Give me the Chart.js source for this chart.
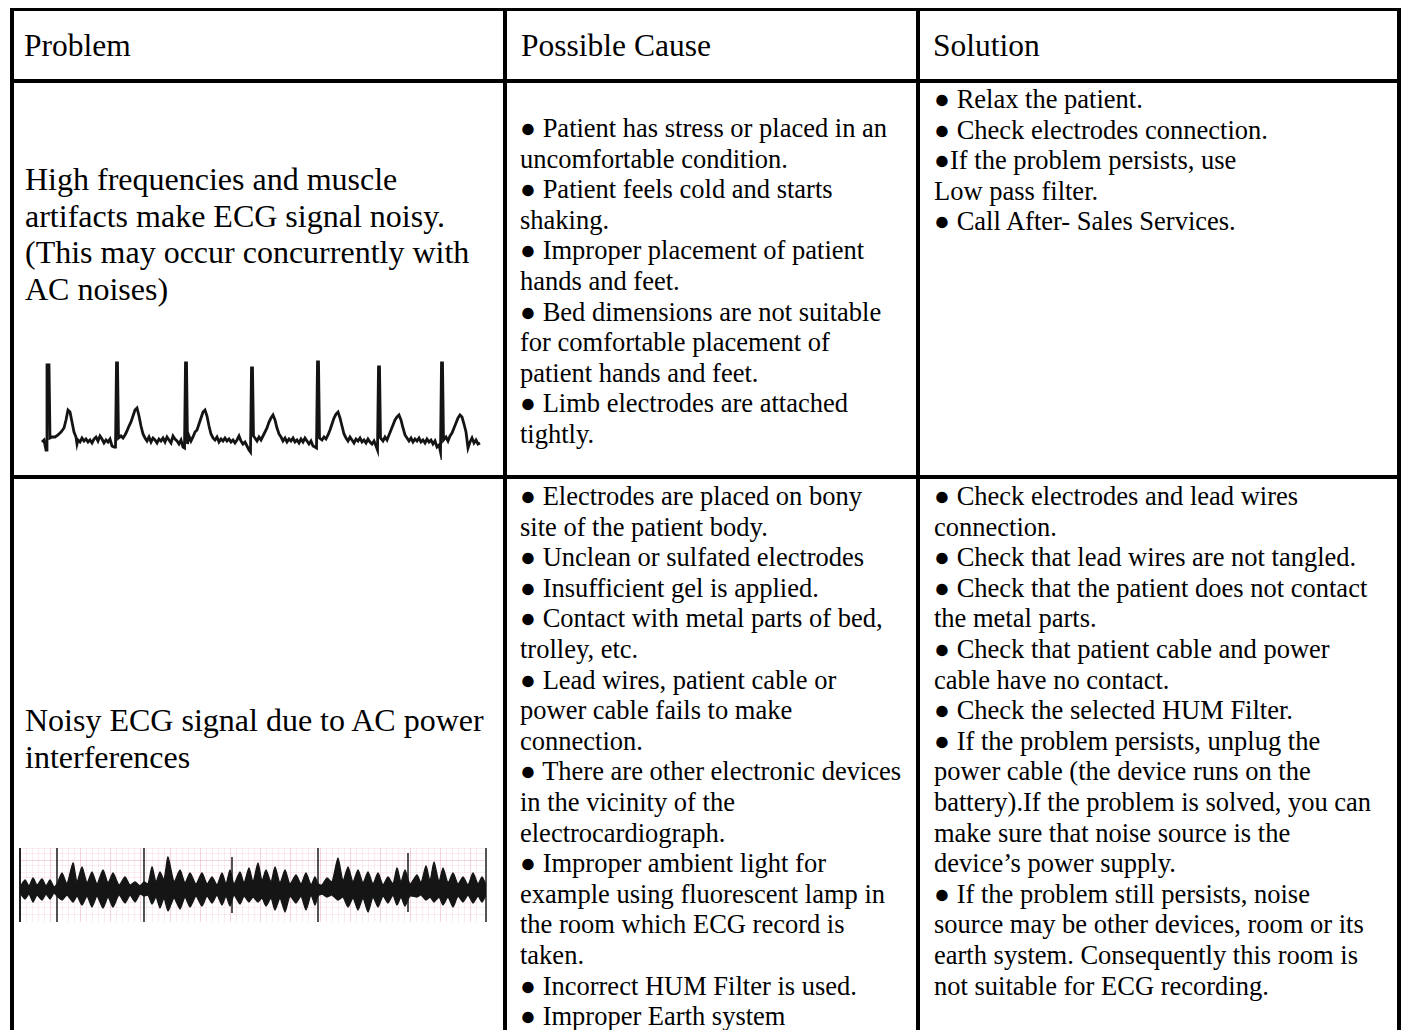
<!DOCTYPE html>
<html>
<head>
<meta charset="utf-8">
<script src="https://cdn.jsdelivr.net/npm/chart.js@4.4.0/dist/chart.umd.min.js"></script>
<style>
  html, body { margin:0; padding:0; }
  body { width:1405px; height:1030px; background:#fff; position:relative; overflow:hidden;
         font-family:"Liberation Serif","Times New Roman",serif; color:#000; }
  .ln { position:absolute; background:#000; }
  .t { position:absolute; white-space:nowrap; }
  .hdr { font-size:31.5px; line-height:36.5px; }
  .big { font-size:32px; line-height:36.6px; }
  .body { font-size:26.5px; line-height:30.6px; }
  canvas { position:absolute; }
</style>
</head>
<body>

<!-- table rules -->
<div class="ln" style="left:10px;top:7.5px;width:1391px;height:3.6px"></div>
<div class="ln" style="left:10px;top:7.5px;width:3.5px;height:1030px"></div>
<div class="ln" style="left:1397px;top:7.5px;width:3.5px;height:1030px"></div>
<div class="ln" style="left:10px;top:79px;width:1391px;height:3.6px"></div>
<div class="ln" style="left:10px;top:475px;width:1391px;height:3.5px"></div>
<div class="ln" style="left:503px;top:7.5px;width:3.8px;height:1030px"></div>
<div class="ln" style="left:916px;top:7.5px;width:3.6px;height:1030px"></div>

<!-- header -->
<div class="t hdr" style="left:24px;top:27.5px">Problem</div>
<div class="t hdr" style="left:521px;top:27.5px">Possible Cause</div>
<div class="t hdr" style="left:933px;top:27.5px">Solution</div>

<!-- row 1 -->
<div class="t big" style="left:25px;top:161px">High frequencies and muscle<br>artifacts make ECG signal noisy.<br>(This may occur concurrently with<br>AC noises)</div>
<canvas id="ecg1" width="444" height="105" style="left:40px;top:355px"></canvas>

<div class="t body" style="left:520px;top:113px">● Patient has stress or placed in an<br>uncomfortable condition.<br>● Patient feels cold and starts<br>shaking.<br>● Improper placement of patient<br>hands and feet.<br>● Bed dimensions are not suitable<br>for comfortable placement of<br>patient hands and feet.<br>● Limb electrodes are attached<br>tightly.</div>

<div class="t body" style="left:934px;top:84px">● Relax the patient.<br>● Check electrodes connection.<br>●If the problem persists, use<br>Low pass filter.<br>● Call After- Sales Services.</div>

<!-- row 2 -->
<div class="t big" style="left:25px;top:702px">Noisy ECG signal due to AC power<br>interferences</div>
<canvas id="ecg2" width="468" height="74" style="left:19px;top:848px"></canvas>

<div class="t body" style="left:520px;top:481px">● Electrodes are placed on bony<br>site of the patient body.<br>● Unclean or sulfated electrodes<br>● Insufficient gel is applied.<br>● Contact with metal parts of bed,<br>trolley, etc.<br>● Lead wires, patient cable or<br>power cable fails to make<br>connection.<br>● There are other electronic devices<br>in the vicinity of the<br>electrocardiograph.<br>● Improper ambient light for<br>example using fluorescent lamp in<br>the room which ECG record is<br>taken.<br>● Incorrect HUM Filter is used.<br>● Improper Earth system</div>

<div class="t body" style="left:934px;top:481px">● Check electrodes and lead wires<br>connection.<br>● Check that lead wires are not tangled.<br>● Check that the patient does not contact<br>the metal parts.<br>● Check that patient cable and power<br>cable have no contact.<br>● Check the selected HUM Filter.<br>● If the problem persists, unplug the<br>power cable (the device runs on the<br>battery).If the problem is solved, you can<br>make sure that noise source is the<br>device’s power supply.<br>● If the problem still persists, noise<br>source may be other devices, room or its<br>earth system. Consequently this room is<br>not suitable for ECG recording.</div>

<script>
// ---- ECG trace 1: muscle artifact (time in samples, amplitude in ADC units) ----
const ecg1Time = [
  2,4,6,7,9,10,12,15,18,21,24,26,28,30,32,34,36,37,38,40,42,44,46,48,50,52,54,56,58,60,62,64,66,68,70,72,74,75.5,
  76.5,77.5,78.5,81,83,85,87,89,91,93,95,97,99,101,103,105,107,109,111,113,115,117,119,121,123,125,127,129,131,133,135,137,139,141,143,144.5,
  145.5,146.5,147.5,149,151,153,155,157,159,161,163,165,167,169,171,173,175,177,179,181,183,185,187,189,191,193,195,197,199,201,203,205,207,209,210.5,
  211.5,212.5,213.5,215,217,219,221,223,225,227,229,231,233,235,237,239,241,243,245,247,249,251,253,255,257,259,261,263,265,267,269,271,273,275,276.5,
  277.5,278.5,279.5,282,284,286,288,290,292,294,296,298,300,302,304,306,308,310,312,314,316,318,320,322,324,326,328,330,332,334,336,337.5,
  338.5,339.5,340.5,343,345,347,349,351,353,355,357,359,361,363,365,367,369,371,373,375,377,379,381,383,385,387,389,391,393,395,397,399,400.5,
  401.5,402.5,403.5,406,408,410,412,414,416,418,420,422,424,426,428,430,432,434,436,438,440
];
const ecg1Amp = [
  -4,-2,-12,73,73,0,1,1,3,6,10,18,28,26,16,6,1,-6,-2,-4,0,-3,-1,-4,-2,-5,-1,1,-3,2,-1,-5,-2,-4,-1,-8,-9,-9,
  75,75,0,2,0,3,7,12,16,22,28,30,22,12,4,0,-3,1,-4,0,-2,-5,-1,-3,0,-4,1,-2,-5,2,-1,-3,-6,-2,-9,-10,
  75,75,-6,2,-3,1,6,8,14,20,26,28,22,12,4,0,-2,1,-4,-1,-3,0,-3,-1,-4,-2,-5,-2,2,-3,-6,-4,-8,-12,-14,
  70,70,2,0,-3,1,-2,2,6,10,16,20,23,18,10,4,1,-3,0,-4,-1,-3,0,-4,-2,-5,-1,-4,0,-3,-6,-3,-8,-9,-10,
  76,76,0,-2,1,-1,3,8,14,20,24,26,20,12,4,0,-3,1,-2,-5,-1,-3,0,-4,-2,-5,-1,-4,-6,-3,-8,-12,
  71,71,0,-3,1,-2,3,8,13,18,21,23,18,10,3,0,-3,0,-4,-1,-3,0,-4,-2,-5,-1,-4,-2,-6,-3,-9,-7,-14,
  75,75,-2,1,-3,2,5,10,15,20,23,21,14,6,-10,-4,0,-5,-2,-6,-5
];

// ---- ECG trace 2: AC power interference (envelope of the hum band) ----
const acTime = [
  0,5,9,13,17,22,26,30,34,37,
  42,47,53,57,62,67,72,77,83,88,93,99,105,110,115,120,124,
  128,132,136,140,144,148,154,160,165,170,176,182,187,192,197,202,206,210,214,
  220,224,229,233,238,242,246,251,255,260,265,270,276,281,286,291,295,298,
  302,307,312,318,323,328,333,338,343,348,353,358,363,368,373,377,381,385,390,
  397,401,406,410,414,419,423,428,433,438,443,448,453,458,462,466
];
const acUpper = [
  3,10,4,12,5,11,4,10,3,6,
  17,6,27,8,23,7,18,6,20,7,17,5,13,5,8,4,8,
  6,23,8,18,10,33,8,20,7,17,6,17,6,13,5,17,6,20,6,
  18,7,22,8,27,9,20,8,23,7,20,6,15,6,17,5,13,6,
  5,12,8,32,9,23,8,20,7,18,6,17,5,13,6,22,8,20,6,
  15,7,24,9,28,8,22,7,17,6,13,5,17,6,13,5
];
const acLower = [
  -3,-9,-4,-12,-5,-10,-4,-9,-3,-6,
  -10,-5,-12,-6,-15,-6,-17,-6,-18,-7,-17,-5,-13,-5,-12,-4,-6,
  -5,-14,-7,-18,-8,-21,-8,-19,-7,-17,-6,-16,-6,-13,-5,-15,-6,-16,-5,
  -14,-6,-12,-7,-12,-8,-16,-8,-20,-8,-22,-6,-13,-6,-20,-5,-15,-6,
  -4,-7,-5,-10,-7,-17,-8,-20,-8,-22,-7,-17,-6,-13,-5,-15,-7,-16,-6,
  -7,-5,-10,-7,-12,-7,-15,-7,-17,-6,-12,-5,-13,-6,-12,-5
];
// R-wave spikes visible through the hum
const spikeTime = [37, 124, 212, 298, 388];
const spikeTop = [42, 42, 33, 42, 37];
const spikeBottom = [-32, -32, -23, -32, -22];

const common = {
  responsive: false,
  animation: false,
  devicePixelRatio: 1,
  events: [],
  plugins: { legend: { display: false }, tooltip: { enabled: false } }
};

new Chart(document.getElementById('ecg1'), {
  type: 'line',
  data: {
    datasets: [{
      data: ecg1Time.map((t, i) => ({ x: t, y: ecg1Amp[i] })),
      borderColor: '#141414',
      borderWidth: 2.8,
      pointRadius: 0,
      tension: 0,
      fill: false
    }]
  },
  options: Object.assign({}, common, {
    layout: { padding: 0 },
    scales: {
      x: { type: 'linear', min: 0, max: 444, display: false },
      y: { min: -22, max: 83, display: false }
    }
  })
});

const spikePts = [];
spikeTime.forEach((t, i) => {
  spikePts.push({ x: t, y: spikeBottom[i] });
  spikePts.push({ x: t, y: spikeTop[i] });
  spikePts.push({ x: t, y: null });
});

const gridColor = c => (Math.round(c.tick.value) % 30 === 0) ? 'rgba(228,160,182,0.45)' : 'rgba(236,185,200,0.28)';

new Chart(document.getElementById('ecg2'), {
  type: 'line',
  data: {
    datasets: [
      {
        data: acTime.map((t, i) => ({ x: t, y: acUpper[i] })),
        borderColor: '#151515', backgroundColor: '#151515', borderWidth: 1.3,
        pointRadius: 0, tension: 0.2, fill: '+1'
      },
      {
        data: acTime.map((t, i) => ({ x: t, y: acLower[i] })),
        borderColor: '#151515', borderWidth: 1.3,
        pointRadius: 0, tension: 0.2, fill: false
      },
      {
        data: spikePts,
        borderColor: '#2a2a2a', borderWidth: 1.6,
        pointRadius: 0, tension: 0, fill: false, spanGaps: false
      }
    ]
  },
  options: Object.assign({}, common, {
    layout: { padding: { left: 1, right: 1, top: 0, bottom: 0 } },
    scales: {
      x: {
        type: 'linear', min: 0, max: 466,
        ticks: { display: false, stepSize: 6, autoSkip: false },
        grid: { drawTicks: false, lineWidth: 1, color: gridColor },
        border: { display: false }
      },
      y: {
        position: 'left', min: -32, max: 42,
        ticks: { display: false, stepSize: 6 },
        grid: { drawTicks: false, lineWidth: 1, color: gridColor },
        border: { display: true, color: '#222', width: 2 }
      },
      y2: {
        position: 'right', min: -32, max: 42,
        ticks: { display: false },
        grid: { display: false, drawTicks: false },
        border: { display: true, color: '#555', width: 2 }
      }
    }
  })
});
</script>
</body>
</html>
